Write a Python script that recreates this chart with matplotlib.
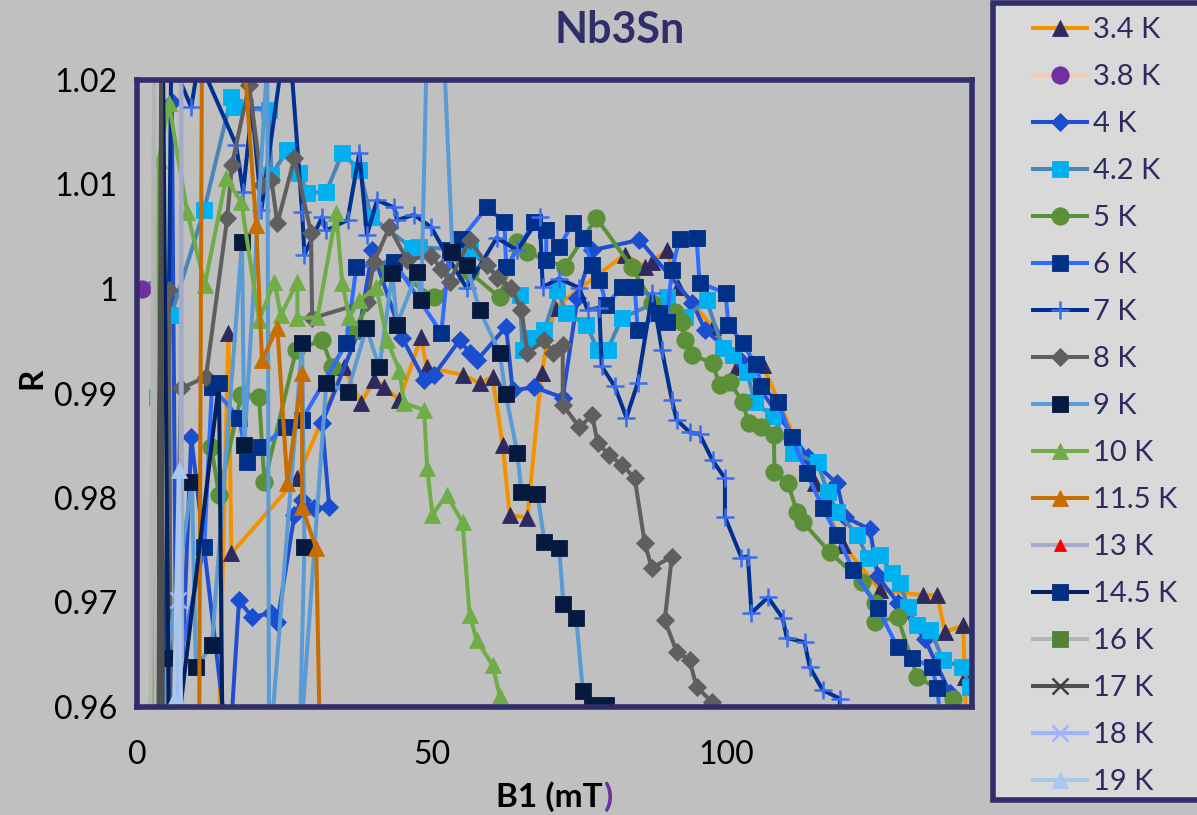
import matplotlib
matplotlib.use("Agg")
import matplotlib.pyplot as plt
from matplotlib.patches import Rectangle

plt.rcParams['font.family'] = ['Lato', 'DejaVu Sans']

# applied field B1 (mT) and normalised ratio R for each temperature
b_3p4 = [13.6, 15.5, 16.0, 27.2, 35.1, 38.0, 40.2, 41.9, 44.5, 48.2, 49.1, 55.2, 58.1, 60.3, 62.0, 63.2, 66.2, 68.6,
         70.8, 82.7, 86.1, 87.4, 89.8, 91.7, 97.6, 101.7, 106.1, 114.9, 119.7, 126.0, 133.3, 135.7, 137.0, 140.1, 140.4, 140.7]
r_3p4 = [0.9511, 0.9958, 0.9747, 0.9819, 0.9925, 0.9891, 0.9913, 0.9906, 0.9894, 0.9954, 0.9925, 0.9918, 0.9910, 0.9916,
         0.9851, 0.9784, 0.9781, 0.9920, 0.9982, 1.0033, 1.0021, 1.0026, 1.0037, 1.0002, 0.9964, 0.9925, 0.9927, 0.9814,
         0.9755, 0.9712, 0.9707, 0.9707, 0.9672, 0.9678, 0.9629, 0.9549]

b_3p8 = [0.85]
r_3p8 = [1.0]

b_4 = [4.6, 5.9, 6.8, 9.2, 15.6, 17.3, 19.5, 22.8, 23.8, 26.7, 28.0, 30.1, 32.6, 31.4, 37.7, 39.9, 45.0, 48.7, 50.4, 54.7,
       56.4, 57.7, 62.6, 63.7, 67.4, 72.2, 74.7, 77.1, 85.2, 94.2, 96.3, 102.2, 113.8, 118.7, 120.0, 124.3, 125.6, 129.0,
       133.6, 137.9, 138.7]
r_4 = [0.9511, 1.0179, 0.9511, 0.9858, 0.9549, 0.9702, 0.9686, 0.9690, 0.9681, 0.9784, 0.9798, 0.9790, 0.9791, 0.9872,
       0.9961, 1.0037, 0.9953, 0.9913, 0.9918, 0.9951, 0.9939, 0.9932, 0.9964, 0.9903, 0.9906, 0.9896, 0.9991, 1.0037,
       1.0047, 0.9987, 0.9961, 0.9932, 0.9839, 0.9814, 0.9782, 0.9770, 0.9725, 0.9700, 0.9665, 0.9613, 0.9549]

b_4p2 = [2.0, 3.4, 5.8, 11.4, 16.0, 16.5, 22.4, 22.8, 25.5, 27.5, 28.9, 32.1, 34.8, 37.7, 39.7, 46.7, 47.9, 56.4, 64.9,
         65.4, 67.1, 69.1, 71.3, 72.8, 76.2, 78.1, 79.8, 82.2, 89.8, 92.9, 96.6, 99.3, 101.0, 103.4, 104.8, 107.8, 111.2,
         115.4, 117.1, 118.7, 122.1, 123.9, 126.0, 128.0, 129.4, 130.7, 132.3, 134.5, 136.7, 139.9, 141.3]
r_4p2 = [0.9511, 0.9897, 0.9975, 1.0076, 1.0184, 1.0174, 1.0171, 1.0109, 1.0133, 1.0111, 1.0092, 1.0093, 1.0130, 1.0114,
         1.0069, 1.0039, 1.0040, 1.0037, 0.9994, 0.9942, 0.9953, 0.9961, 0.9999, 0.9977, 0.9966, 0.9942, 0.9942, 0.9972,
         0.9992, 0.9973, 0.9989, 0.9944, 0.9937, 0.9921, 0.9892, 0.9878, 0.9843, 0.9834, 0.9806, 0.9787, 0.9765, 0.9743,
         0.9745, 0.9728, 0.9719, 0.9696, 0.9678, 0.9674, 0.9645, 0.9638, 0.9619]

b_5 = [12.6, 13.9, 17.7, 20.7, 21.6, 27.0, 31.4, 33.1, 36.8, 42.8, 50.4, 56.4, 61.5, 64.5, 66.2, 72.5, 77.9, 83.9, 87.4,
       91.2, 92.4, 92.9, 94.2, 97.6, 98.8, 100.5, 102.7, 103.7, 105.9, 108.0, 108.1, 110.4, 111.9, 112.9, 117.5, 122.9,
       125.1, 125.1, 129.0, 132.3, 138.4]
r_5 = [0.9849, 0.9803, 0.9899, 0.9897, 0.9815, 0.9942, 0.9951, 0.9925, 0.9961, 1.0021, 0.9992, 1.0016, 0.9992, 1.0045,
       1.0035, 1.0021, 1.0068, 1.0021, 0.9987, 0.9978, 0.9968, 0.9951, 0.9937, 0.9929, 0.9908, 0.9911, 0.9892, 0.9872,
       0.9868, 0.9860, 0.9825, 0.9814, 0.9787, 0.9777, 0.9748, 0.9720, 0.9700, 0.9681, 0.9686, 0.9629, 0.9608]

b_6 = [2.0, 11.4, 12.7, 17.3, 18.7, 21.1, 25.3, 28.0, 35.5, 37.2, 43.6, 51.6, 53.0, 55.0, 59.3, 62.3, 62.6, 67.4, 69.4,
       69.4, 71.6, 73.9, 75.6, 77.2, 78.4, 79.6, 82.3, 84.4, 84.9, 88.6, 89.8, 90.7, 92.0, 94.9, 95.4, 99.8, 100.3, 102.7,
       104.9, 105.9, 108.7, 111.0, 113.6, 116.3, 118.7, 121.4, 125.6, 129.0, 131.4, 134.8, 135.7, 137.0]
r_6 = [0.9511, 0.9753, 0.9906, 0.9877, 0.9834, 0.9849, 0.9868, 0.9875, 0.9948, 1.0021, 1.0026, 0.9958, 1.0037, 1.0048,
       1.0078, 1.0064, 1.0021, 1.0064, 1.0056, 1.0028, 1.0040, 1.0063, 1.0049, 1.0023, 1.0009, 0.9985, 1.0002, 1.0002,
       0.9961, 0.9977, 0.9968, 1.0018, 1.0048, 1.0049, 1.0006, 0.9996, 0.9966, 0.9948, 0.9928, 0.9907, 0.9892, 0.9858,
       0.9824, 0.9790, 0.9765, 0.9731, 0.9695, 0.9657, 0.9647, 0.9638, 0.9618, 0.9549]

b_7 = [3.4, 4.6, 5.8, 9.2, 10.5, 16.8, 18.0, 19.5, 21.1, 24.6, 26.1, 28.0, 28.4, 31.4, 32.1, 35.7, 37.7, 39.0, 40.7, 43.6,
       44.1, 47.0, 49.9, 53.0, 55.9, 61.0, 64.5, 68.3, 68.8, 71.6, 75.0, 76.4, 78.4, 78.8, 81.0, 83.0, 84.9, 87.4, 89.0,
       90.7, 91.5, 93.7, 95.4, 97.6, 99.7, 99.7, 102.5, 103.6, 104.2, 107.0, 109.5, 110.2, 113.2, 114.1, 116.3, 119.2, 119.2]
r_7 = [1.0007, 0.9511, 1.0219, 1.0174, 1.0219, 1.0138, 1.0093, 1.0174, 1.0076, 1.0219, 1.0219, 1.0074, 1.0033, 1.0069,
       1.0056, 1.0066, 1.0130, 1.0052, 1.0085, 1.0078, 1.0066, 1.0071, 1.0059, 1.0028, 1.0001, 1.0049, 1.0037, 1.0069,
       1.0002, 1.0010, 1.0001, 0.9980, 0.9982, 0.9926, 0.9907, 0.9877, 0.9910, 0.9996, 0.9942, 0.9894, 0.9875, 0.9863,
       0.9861, 0.9836, 0.9819, 0.9782, 0.9743, 0.9744, 0.9690, 0.9705, 0.9685, 0.9666, 0.9662, 0.9638, 0.9616, 0.9608,
       0.9549]

b_8 = [5.1, 5.4, 5.8, 7.5, 11.7, 15.3, 16.1, 19.0, 21.2, 22.8, 23.8, 26.7, 29.5, 29.7, 39.0, 40.2, 42.8, 45.8, 49.9, 51.6,
       53.0, 56.4, 59.4, 61.0, 63.5, 65.2, 66.2, 69.1, 70.5, 72.2, 72.2, 75.0, 77.2, 78.1, 80.1, 82.2, 84.4, 86.1, 87.3,
       90.7, 89.5, 91.5, 93.7, 94.9, 97.5]
r_8 = [0.9511, 0.9999, 0.9511, 0.9905, 0.9916, 1.0068, 1.0119, 1.0195, 1.0100, 1.0104, 1.0063, 1.0125, 1.0054, 0.9972,
       0.9988, 1.0026, 1.0059, 1.0028, 1.0032, 1.0019, 1.0007, 1.0047, 1.0023, 1.0011, 1.0001, 0.9980, 0.9939, 0.9951,
       0.9939, 0.9946, 0.9889, 0.9868, 0.9879, 0.9853, 0.9841, 0.9832, 0.9819, 0.9757, 0.9733, 0.9744, 0.9683, 0.9653,
       0.9645, 0.9619, 0.9605]

b_9 = [3.7, 5.1, 9.3, 10.0, 12.7, 17.8, 18.2, 22.1, 22.4, 28.0, 28.4, 27.5, 32.1, 35.7, 38.9, 41.1, 43.3, 44.1, 47.5,
       48.2, 49.1, 52.1, 53.5, 55.9, 58.1, 61.5, 62.5, 64.5, 65.2, 67.9, 69.1, 71.6, 72.3, 74.5, 75.6, 77.2, 79.5]
r_9 = [0.9511, 0.9647, 0.9815, 0.9638, 0.9659, 1.0045, 0.9851, 1.0219, 0.9549, 0.9948, 0.9753, 0.9549, 0.9910, 0.9901,
       0.9963, 0.9925, 1.0015, 0.9966, 1.0016, 0.9989, 1.0219, 1.0219, 1.0035, 1.0023, 0.9980, 0.9939, 0.9900, 0.9843,
       0.9806, 0.9804, 0.9758, 0.9752, 0.9699, 0.9685, 0.9615, 0.9602, 0.9602]

b_10 = [2.5, 3.7, 5.4, 8.5, 11.5, 15.1, 17.7, 20.7, 23.3, 24.4, 27.2, 27.2, 30.6, 33.8, 34.8, 36.0, 37.7, 40.6, 42.4,
        44.5, 45.3, 48.7, 49.2, 50.1, 52.5, 55.2, 56.4, 57.6, 60.3, 61.5, 62.0]
r_10 = [0.9511, 1.0123, 1.0178, 1.0074, 1.0004, 1.0106, 1.0083, 0.9970, 1.0007, 0.9975, 1.0007, 0.9972, 0.9973, 1.0073,
        1.0006, 0.9973, 0.9989, 1.0002, 0.9951, 0.9922, 0.9891, 0.9884, 0.9829, 0.9784, 0.9803, 0.9777, 0.9688, 0.9664,
        0.9640, 0.9611, 0.9588]

b_11p5 = [10.5, 11.0, 18.2, 20.2, 21.2, 23.8, 25.5, 28.0, 28.0, 30.4, 31.2]
r_11p5 = [0.9511, 1.0219, 1.0219, 1.0061, 0.9932, 0.9963, 0.9814, 0.9920, 0.9791, 0.9752, 0.9511]

b_13 = [7.3, 7.5, 7.7]
r_13 = [0.9511, 1.0219, 0.9511]

b_14p5 = [3.2, 4.4, 5.5, 13.9, 14.6]
r_14p5 = [0.9511, 1.0222, 0.9511, 0.9910, 0.9511]

b_16 = [2.2, 2.9, 3.2]
r_16 = [0.9511, 1.0219, 0.9511]

b_17 = [3.6, 4.1, 4.4]
r_17 = [0.9511, 1.0219, 0.9511]

b_18 = [6.6, 7.0, 8.0]
r_18 = [0.9511, 0.9702, 0.9511]

b_19 = [5.9, 6.3, 7.1, 7.5]
r_19 = [0.9511, 0.9607, 0.9827, 0.9511]

temps = ["3.4 K", "3.8 K", "4 K", "4.2 K", "5 K", "6 K", "7 K", "8 K", "9 K",
         "10 K", "11.5 K", "13 K", "14.5 K", "16 K", "17 K", "18 K", "19 K"]
fields = [b_3p4, b_3p8, b_4, b_4p2, b_5, b_6, b_7, b_8, b_9, b_10, b_11p5, b_13, b_14p5, b_16, b_17, b_18, b_19]
ratios = [r_3p4, r_3p8, r_4, r_4p2, r_5, r_6, r_7, r_8, r_9, r_10, r_11p5, r_13, r_14p5, r_16, r_17, r_18, r_19]

# line colour, marker, marker colour, marker size
styles = [
    ("#f39200", "^", "#2e2a5e", 12),
    ("#f8cbad", "o", "#7030a0", 12.5),
    ("#1f4fd0", "D", "#1a4ecf", 9),
    ("#4a85b8", "s", "#00b0f0", 12),
    ("#5b9038", "o", "#5b9038", 12.5),
    ("#2e6bff", "s", "#003087", 12),
    ("#003090", "+", "#3a6cf0", 13),
    ("#5f5f5f", "D", "#5f5f5f", 9),
    ("#5b9bd5", "s", "#061a40", 12),
    ("#70ad47", "^", "#70ad47", 12),
    ("#c86e00", "^", "#c86e00", 12),
    ("#a5aac8", "^", "#ff0000", 9),
    ("#002060", "s", "#00307f", 12),
    ("#b4b4b4", "s", "#548235", 12),
    ("#505050", "x", "#404040", 11),
    ("#9fb3ff", "x", "#9fb3ff", 11),
    ("#a9c6eb", "^", "#a9c6eb", 12),
]

navy = "#312d6b"
bg = "#c0c0c0"

fig = plt.figure(figsize=(11.97, 8.15), dpi=100, facecolor=bg)
ax = fig.add_axes([137 / 1197, 108 / 815, 835 / 1197, 627 / 815])
ax.set_facecolor(bg)

for label, b, r, (lc, mk, mc, ms) in zip(temps, fields, ratios, styles):
    ax.plot(b, r, color=lc, lw=2.9, marker=mk, ms=ms, mfc=mc, mec=mc,
            mew=1.8 if mk in "+x" else 0.6, label=label)

ax.set_xlim(0, 141.6)
ax.set_ylim(0.96, 1.02)
ax.set_xticks([0, 50, 100])
ax.set_yticks([0.96, 0.97, 0.98, 0.99, 1.0, 1.01, 1.02])
ax.set_yticklabels(["0.96", "0.97", "0.98", "0.99", "1", "1.01", "1.02"])
ax.tick_params(length=0, labelsize=23, colors="black")
ax.tick_params(axis="y", pad=14)
ax.tick_params(axis="x", pad=24)
for s in ax.spines.values():
    s.set_color(navy)
    s.set_linewidth(4)

fig.text(620 / 1197, 1 - 30 / 815, "Nb3Sn", ha="center", va="center",
         fontsize=31, fontweight="bold", color=navy)
fig.text(32 / 1197, 1 - 378 / 815, "R", rotation=90, ha="center", va="center",
         fontsize=24, fontweight="bold", color="black")
fig.text(603 / 1197, 1 - 797 / 815, "B1 (mT", ha="right", va="center",
         fontsize=24, fontweight="bold", color="black")
fig.text(603 / 1197, 1 - 797 / 815, ")", ha="left", va="center",
         fontsize=24, fontweight="bold", color="#7030a0")

# legend panel on the right, drawn underneath the axes content
fig.add_artist(Rectangle((993 / 1197, 15 / 815), 0.2, 797 / 815, transform=fig.transFigure,
                         facecolor="#d9d9d9", edgecolor=navy, lw=4, zorder=-1))
leg = ax.legend(loc="upper left", bbox_to_anchor=(1033 / 1197, 1 - 17 / 815),
                bbox_transform=fig.transFigure, frameon=False, fontsize=21,
                handlelength=1.85, handletextpad=0.2, labelspacing=0.72, borderpad=0,
                borderaxespad=0)
for t in leg.get_texts():
    t.set_color("#2e2a5f")

fig.savefig("out.png", dpi=100, facecolor=bg)
